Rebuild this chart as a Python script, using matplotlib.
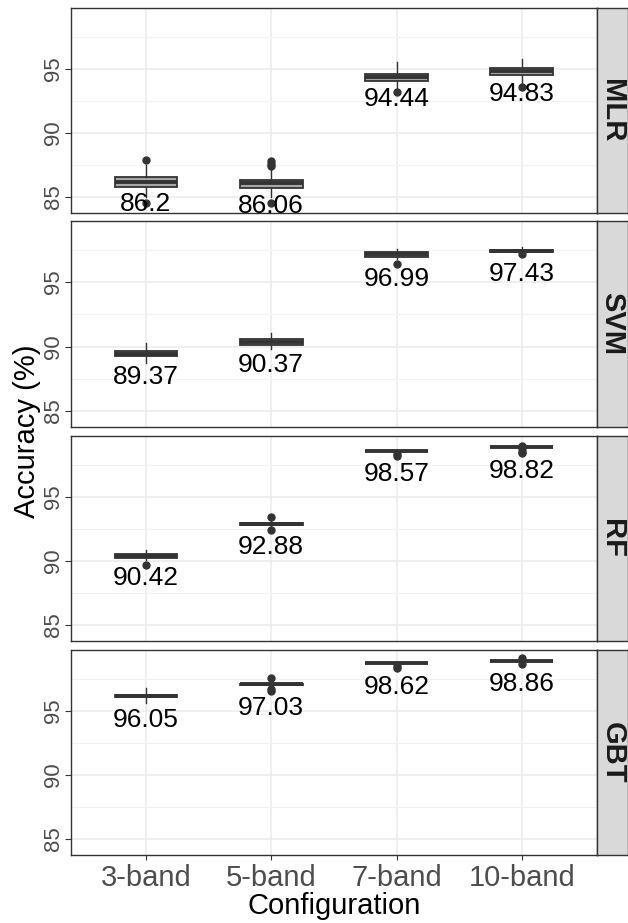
import matplotlib.pyplot as plt

plt.rcParams['font.family'] = ['Liberation Sans', 'DejaVu Sans']

models = ['MLR', 'SVM', 'RF', 'GBT']
configs = ['3-band', '5-band', '7-band', '10-band']

# box statistics, one row per model, one column per configuration
whislo = [[85.0, 85.0, 93.4, 93.8],
          [88.7, 89.79, 96.8, 97.3],
          [90.05, 92.7, 98.6, 98.9],
          [95.58, 97.05, 98.7, 98.88]]
q1 = [[85.76, 85.68, 94.09, 94.53],
      [89.27, 90.15, 96.97, 97.38],
      [90.23, 92.82, 98.6, 98.9],
      [96.1, 97.05, 98.7, 98.88]]
med = [[86.2, 86.07, 94.35, 94.84],
       [89.45, 90.39, 97.17, 97.45],
       [90.4, 92.9, 98.6, 98.9],
       [96.15, 97.09, 98.7, 98.88]]
q3 = [[86.54, 86.33, 94.6, 95.05],
      [89.63, 90.62, 97.36, 97.52],
      [90.57, 92.98, 98.6, 98.9],
      [96.2, 97.13, 98.7, 98.88]]
whishi = [[87.5, 87.2, 95.5, 95.76],
          [90.31, 91.04, 97.55, 97.73],
          [90.89, 93.1, 98.6, 98.9],
          [96.75, 97.13, 98.7, 98.88]]
fliers = [[[87.9, 84.55], [87.8, 87.6, 87.4, 84.55], [93.2], [93.6]],
          [[], [], [96.43], [97.16]],
          [[89.66], [93.39, 92.4], [98.35, 98.2], [99.0, 98.75, 98.5, 98.4]],
          [[], [97.55, 96.7, 96.55], [98.5, 98.35], [99.09, 98.65]]]
means = [[86.2, 86.06, 94.44, 94.83],
         [89.37, 90.37, 96.99, 97.43],
         [90.42, 92.88, 98.57, 98.82],
         [96.05, 97.03, 98.62, 98.86]]

W, H = 628, 923
fig = plt.figure(figsize=(W / 100, H / 100), dpi=100)

left, right = 70.7, 597
panels = [(8, 213), (221, 427), (436, 641), (650, 855)]

for i, (top, bot) in enumerate(panels):
    ax = fig.add_axes([left / W, 1 - bot / H, (right - left) / W, (bot - top) / H])
    stats = []
    for j in range(len(configs)):
        stats.append(dict(whislo=whislo[i][j], q1=q1[i][j], med=med[i][j],
                          q3=q3[i][j], whishi=whishi[i][j], fliers=fliers[i][j]))
    ax.bxp(stats, positions=[1, 2, 3, 4], widths=0.5, patch_artist=True,
           showcaps=False,
           boxprops=dict(facecolor='#A6A6A6', edgecolor='#333333', linewidth=1.3),
           medianprops=dict(color='#333333', linewidth=2.8),
           whiskerprops=dict(color='#333333', linewidth=1.0),
           flierprops=dict(marker='o', markerfacecolor='#333333',
                           markeredgecolor='#333333', markersize=5))
    for j in range(len(configs)):
        ax.text(j + 1, means[i][j] - 1.77, f'{means[i][j]:g}', ha='center',
                va='center', fontsize=19, color='black')

    ax.set_xlim(0.4, 4.6)
    ax.set_ylim(83.75, 99.75)
    ax.set_yticks([85, 90, 95])
    ax.set_yticks([87.5, 92.5, 97.5], minor=True)
    ax.set_yticklabels(['85', '90', '95'], rotation=90, va='center')
    ax.set_xticks([1, 2, 3, 4])
    if i == len(panels) - 1:
        ax.set_xticklabels(configs)
    else:
        ax.set_xticklabels([])
        ax.tick_params(axis='x', length=0)
    ax.grid(which='major', color='#EBEBEB', linewidth=1.1)
    ax.grid(which='minor', axis='y', color='#F2F2F2', linewidth=0.8)
    ax.set_axisbelow(True)
    ax.tick_params(axis='y', which='minor', length=0)
    ax.tick_params(axis='y', which='major', labelsize=16, labelcolor='#4D4D4D',
                   color='#333333', length=4, pad=0.5)
    ax.tick_params(axis='x', labelsize=21, labelcolor='#4D4D4D',
                   color='#333333', pad=3)
    for s in ax.spines.values():
        s.set_color('#333333')
        s.set_linewidth(1.0)

    # facet strip on the right
    sx = fig.add_axes([right / W, 1 - bot / H, (W - right) / W, (bot - top) / H])
    sx.set_facecolor('#D9D9D9')
    sx.set_xticks([])
    sx.set_yticks([])
    for s in sx.spines.values():
        s.set_color('#333333')
        s.set_linewidth(1.0)
    sx.text(0.5, 0.5, models[i], rotation=-90, ha='center', va='center',
            fontsize=21, fontweight='bold', color='#1A1A1A', transform=sx.transAxes)

fig.text(27 / W, 1 - 431 / H, 'Accuracy (%)', rotation=90, ha='center',
         va='center', fontsize=21)
fig.text((left + right) / 2 / W, 1 - 906 / H, 'Configuration', ha='center',
         va='center', fontsize=21)

fig.savefig('out.png', dpi=100)
